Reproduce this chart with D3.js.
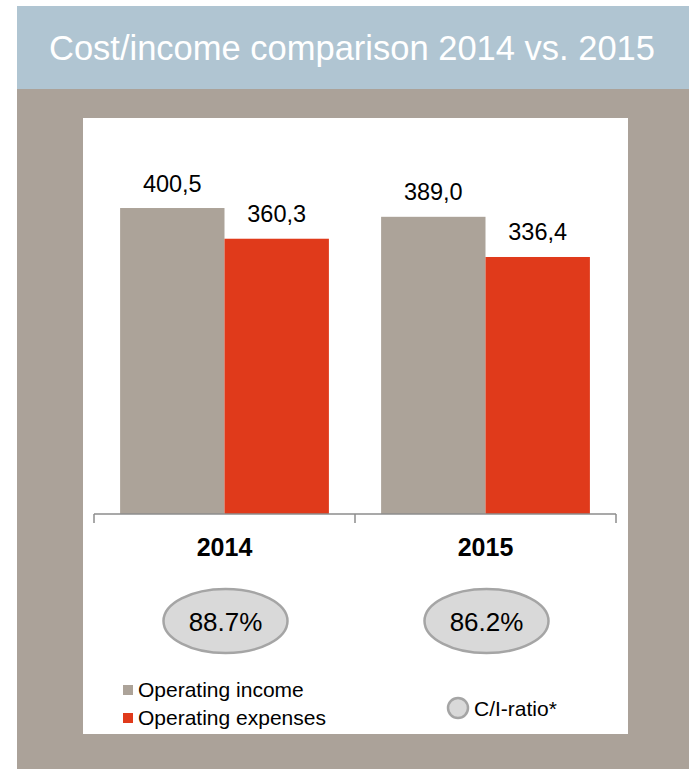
<!DOCTYPE html>
<html>
<head>
<meta charset="utf-8">
<script src="https://cdn.jsdelivr.net/npm/d3@7"></script>
<style>
  html, body { margin: 0; padding: 0; background: #ffffff; }
  svg { display: block; font-family: "Liberation Sans", Arial, sans-serif; }
</style>
</head>
<body>
<svg id="chart" width="689" height="769"></svg>
<script>
// Data
const years = ["2014", "2015"];
const seriesNames = ["Operating income", "Operating expenses"];
const operatingIncome = [400.5, 389.0];
const operatingExpenses = [360.3, 336.4];
const ciRatio = [88.7, 86.2];
const titleText = "Cost/income comparison 2014 vs. 2015";
const ratioLegend = "C/I-ratio*";

const colors = {
  header: "#b0c5d2",
  frame: "#aba299",
  income: "#aca399",
  expenses: "#e03a1b",
  axis: "#8c8c8c",
  ellipseFill: "#d9d9d9",
  ellipseStroke: "#a5a5a5"
};

const svg = d3.select("#chart");

// Header band and frame
svg.append("rect").attr("x", 17).attr("y", 6).attr("width", 672).attr("height", 83).attr("fill", colors.header);
svg.append("rect").attr("x", 17).attr("y", 89).attr("width", 672).attr("height", 680).attr("fill", colors.frame);
svg.append("text").attr("x", 49).attr("y", 60)
  .attr("fill", "#ffffff").attr("font-size", 34.5)
  .text(titleText);

// White chart panel
svg.append("rect").attr("x", 83).attr("y", 118).attr("width", 545).attr("height", 616).attr("fill", "#ffffff");

// Scales
const x = d3.scaleBand().domain(years).range([94, 616]).paddingInner(0.2).paddingOuter(0.1);
const sub = d3.scaleBand().domain(seriesNames).range([0, x.bandwidth()]);
const y = d3.scaleLinear().domain([0, 450]).range([514, 170.2]);

const rows = years.map((yr, i) => ({
  year: yr,
  values: [
    { key: seriesNames[0], v: operatingIncome[i], color: colors.income },
    { key: seriesNames[1], v: operatingExpenses[i], color: colors.expenses }
  ]
}));

const fmt = v => d3.format(".1f")(v).replace(".", ",");

const groups = svg.selectAll("g.year").data(rows).join("g")
  .attr("class", "year")
  .attr("transform", d => `translate(${x(d.year)},0)`);

groups.selectAll("rect").data(d => d.values).join("rect")
  .attr("x", d => sub(d.key))
  .attr("y", d => y(d.v))
  .attr("width", sub.bandwidth())
  .attr("height", d => y(0) - y(d.v))
  .attr("fill", d => d.color);

groups.selectAll("text.val").data(d => d.values).join("text")
  .attr("class", "val")
  .attr("x", d => sub(d.key) + sub.bandwidth() / 2)
  .attr("y", d => y(d.v) - 16.5)
  .attr("text-anchor", "middle")
  .attr("font-size", 23.5)
  .attr("fill", "#000")
  .text(d => fmt(d.v));

// Category axis with ticks between the categories
const step = x.step();
const axisStart = x.range()[0];
const boundaries = d3.range(years.length + 1).map(i => axisStart + i * step);
const axisG = svg.append("g");
axisG.append("line")
  .attr("x1", boundaries[0]).attr("x2", boundaries[boundaries.length - 1])
  .attr("y1", y(0)).attr("y2", y(0))
  .attr("stroke", colors.axis).attr("stroke-width", 1.5);
axisG.selectAll("line.tick").data(boundaries).join("line")
  .attr("class", "tick")
  .attr("x1", d => d).attr("x2", d => d)
  .attr("y1", y(0)).attr("y2", y(0) + 9)
  .attr("stroke", colors.axis).attr("stroke-width", 1.5);
axisG.selectAll("text").data(years).join("text")
  .attr("x", d => x(d) + x.bandwidth() / 2)
  .attr("y", 556)
  .attr("text-anchor", "middle")
  .attr("font-size", 25).attr("font-weight", "bold")
  .attr("fill", "#000")
  .text(d => d);

// C/I ratio ellipses
const ell = svg.selectAll("g.ratio").data(years.map((yr, i) => ({ year: yr, r: ciRatio[i] }))).join("g")
  .attr("class", "ratio")
  .attr("transform", d => `translate(${x(d.year) + x.bandwidth() / 2 + 1},621)`);
ell.append("ellipse").attr("rx", 62).attr("ry", 32)
  .attr("fill", colors.ellipseFill).attr("stroke", colors.ellipseStroke).attr("stroke-width", 2.5);
ell.append("text").attr("y", 9.5).attr("text-anchor", "middle")
  .attr("font-size", 26).attr("fill", "#000")
  .text(d => d.r.toFixed(1) + "%");

// Legend
const leg = svg.selectAll("g.leg").data(seriesNames).join("g")
  .attr("class", "leg")
  .attr("transform", (d, i) => `translate(123,${685 + i * 28})`);
leg.append("rect").attr("width", 10).attr("height", 10)
  .attr("fill", (d, i) => i === 0 ? colors.income : colors.expenses);
leg.append("text").attr("x", 15).attr("y", 12).attr("font-size", 21).attr("fill", "#000").text(d => d);

const rl = svg.append("g").attr("transform", "translate(458,708)");
rl.append("circle").attr("r", 10).attr("fill", colors.ellipseFill)
  .attr("stroke", colors.ellipseStroke).attr("stroke-width", 2.5);
rl.append("text").attr("x", 16).attr("y", 7.5).attr("font-size", 21).attr("fill", "#000").text(ratioLegend);
</script>
</body>
</html>
